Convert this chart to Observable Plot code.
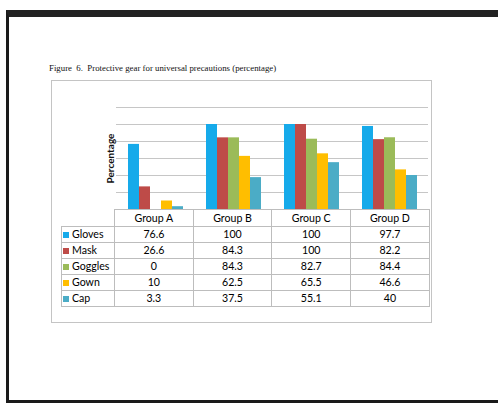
<!DOCTYPE html>
<html>
<head>
<meta charset="utf-8">
<script src="https://cdn.jsdelivr.net/npm/d3@7"></script>
<script src="https://cdn.jsdelivr.net/npm/@observablehq/plot@0.6"></script>
<style>
  html, body { margin: 0; padding: 0; background: #fff; }
  #page { position: relative; width: 498px; height: 403px; overflow: hidden; background: #fff; }
  #border { position: absolute; left: 6px; top: 10px; width: 500px; height: 383px;
            border-top: 7px solid #222; border-left: 3px solid #1a1a1a; border-bottom: 3px solid #1a1a1a; }
  #title { position: absolute; left: 49px; top: 63px; font-family: "Liberation Serif", serif; font-size: 8.8px; color: #111; white-space: nowrap; }
  #frame { position: absolute; left: 51px; top: 80px; width: 379px; height: 241px; border: 1px solid #c4c4c4; }
  #chart { position: absolute; left: 0; top: 0; }
  #chart svg [aria-label="y-axis label"] text, #chart svg [aria-label="y-axis label"] { font-weight: bold; }
  #tbl { position: absolute; left: 61px; top: 209px; border-collapse: collapse; table-layout: fixed;
         font-family: Lato, "Open Sans", sans-serif; font-size: 10.6px; color: #000; }
  #tbl td { border: 1px solid #bdbdbd; padding: 0; text-align: center; height: 15px; line-height: 15px; overflow: hidden; white-space: nowrap; }
  #tbl tr.head td { height: 16px; line-height: 16px; }
  #tbl td.corner { border-top: none; border-left: none; }
  #tbl td.lab { text-align: left; padding-left: 1px; }
  .sw { display: inline-block; width: 6px; height: 6px; margin-right: 3px; vertical-align: 0px; }
</style>
</head>
<body>
<div id="page">
  <div id="border"></div>
  <div id="title">Figure&nbsp; 6.&nbsp; Protective gear for universal precautions (percentage)</div>
  <div id="frame"></div>
  <div id="chart"></div>
  <table id="tbl"></table>
</div>
<script>
const groups = ["Group A", "Group B", "Group C", "Group D"];
const gears = ["Gloves", "Mask", "Goggles", "Gown", "Cap"];
const gloves = [76.6, 100, 100, 97.7];
const mask = [26.6, 84.3, 100, 82.2];
const goggles = [0, 84.3, 82.7, 84.4];
const gown = [10, 62.5, 65.5, 46.6];
const cap = [3.3, 37.5, 55.1, 40];
const yTicks = [0, 20, 40, 60, 80, 100, 120];
const colors = ["#16AAEA", "#BE4B48", "#9BBB59", "#FFBE00", "#4BACC6"];

const series = [gloves, mask, goggles, gown, cap];
const rows = groups.flatMap((g, i) => gears.map((k, j) => ({group: g, gear: k, value: series[j][i]})));

const chart = Plot.plot({
  width: 498,
  height: 215,
  marginLeft: 114,
  marginRight: 69,
  marginTop: 107,
  marginBottom: 6,
  style: {background: "transparent", fontFamily: "Lato, sans-serif"},
  fx: {domain: groups, padding: 0, axis: null},
  x: {domain: gears, paddingInner: 0, paddingOuter: 0.78, axis: null},
  y: {domain: [0, 120], axis: null},
  color: {domain: gears, range: colors},
  marks: [
    Plot.gridY(yTicks, {stroke: "#c6c6c6", strokeOpacity: 1}),
    Plot.barY(rows, {fx: "group", x: "gear", y: "value", fill: "gear"}),
    Plot.axisY({ticks: [], tickSize: 0, tickFormat: () => "", label: "Percentage", labelAnchor: "center", labelArrow: "none", labelOffset: 10, fontSize: 10, fontWeight: "bold", fill: "#111"})
  ]
});
document.getElementById("chart").appendChild(chart);

// data table
const tbl = document.getElementById("tbl");
const cg = document.createElement("colgroup");
[53, 78.7, 78.7, 78.7, 78.7].forEach(w => { const c = document.createElement("col"); c.style.width = w + "px"; cg.appendChild(c); });
tbl.appendChild(cg);
const head = document.createElement("tr");
head.className = "head";
const corner = document.createElement("td"); corner.className = "corner"; head.appendChild(corner);
groups.forEach(g => { const td = document.createElement("td"); td.textContent = g; head.appendChild(td); });
tbl.appendChild(head);
gears.forEach((k, j) => {
  const tr = document.createElement("tr");
  const lab = document.createElement("td"); lab.className = "lab";
  const sw = document.createElement("span"); sw.className = "sw"; sw.style.background = colors[j];
  lab.appendChild(sw); lab.appendChild(document.createTextNode(k));
  tr.appendChild(lab);
  series[j].forEach(v => { const td = document.createElement("td"); td.textContent = String(v); tr.appendChild(td); });
  tbl.appendChild(tr);
});
</script>
</body>
</html>
